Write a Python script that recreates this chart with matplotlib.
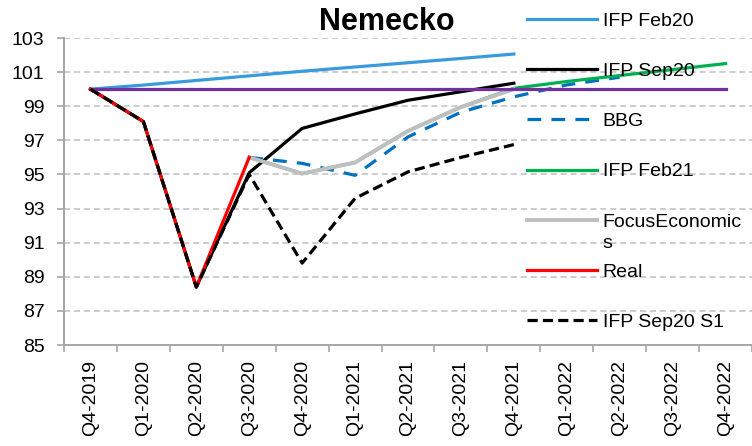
import numpy as np
import matplotlib
matplotlib.use('Agg')
import matplotlib.pyplot as plt

plt.rcParams['font.family'] = ['Liberation Sans', 'DejaVu Sans']

quarters = ['Q4-2019', 'Q1-2020', 'Q2-2020', 'Q3-2020', 'Q4-2020', 'Q1-2021',
            'Q2-2021', 'Q3-2021', 'Q4-2021', 'Q1-2022', 'Q2-2022', 'Q3-2022', 'Q4-2022']

# values (None = no value)
ifp_feb20 = [100.0, 100.24, 100.51, 100.78, 101.05, 101.30, 101.55, 101.80, 102.06]
ifp_sep20 = [100.0, 98.1, 88.4, 95.1, 97.7, 98.55, 99.35, 99.85, 100.35]
bbg = [None, None, None, 96.0, 95.65, 94.95, 97.2, 98.65, 99.55, 100.25, 100.7]
ifp_feb21 = [None, None, None, 96.0, 95.05, 95.7, 97.55, 98.95, 100.05, 100.45, 100.8, 101.15, 101.5]
focus = [None, None, None, 96.0, 95.05, 95.7, 97.55, 98.95, 100.0]
real = [100.0, 98.1, 88.4, 96.0]
ifp_sep20_s1 = [100.0, 98.1, 88.4, 95.0, 89.8, 93.6, 95.15, 96.0, 96.75]
base = [100.0] * 13

yticks = list(range(85, 104, 2))


def series(vals):
    x = np.arange(len(vals))
    y = np.array([np.nan if v is None else v for v in vals], dtype=float)
    return x, y


fig = plt.figure(figsize=(7.52, 4.46), dpi=100)
ax = fig.add_axes([64/752, 101/446, 688/752, 307/446])

lw = 2.3
ax.plot(*series(ifp_feb20), color='#3A9BDC', lw=lw, label='IFP Feb20', zorder=3)
ax.plot(*series(ifp_sep20), color='black', lw=lw, label='IFP Sep20', zorder=3)
ax.plot(*series(bbg), color='#0070C0', lw=lw, dashes=(4.3, 3.2), label='BBG', zorder=3)
ax.plot(*series(ifp_feb21), color='#00B050', lw=lw, label='IFP Feb21', zorder=3)
ax.plot(*series(focus), color='#BFBFBF', lw=2.8, label='FocusEconomic', zorder=4)
ax.plot(*series(real), color='#FF0000', lw=lw, label='Real', zorder=5)
ax.plot(*series(ifp_sep20_s1), color='black', lw=lw, dashes=(3.2, 1.6), label='IFP Sep20 S1', zorder=6)
ax.plot(*series(base), color='#7030A0', lw=lw, zorder=4)

ax.set_xlim(-0.5, len(quarters) - 0.5)
ax.set_ylim(85, 103)
ax.set_yticks(yticks)
ax.set_yticklabels([str(v) for v in yticks], fontsize=14)
ax.set_xticks(np.arange(len(quarters)))
ax.set_xticklabels(quarters, rotation=90, fontsize=14)
ax.set_xticks(np.arange(len(quarters) + 1) - 0.5, minor=True)
ax.tick_params(axis='x', which='major', length=0, pad=11)
ax.tick_params(axis='x', which='minor', length=5, color='#A6A6A6', width=1.2)
ax.tick_params(axis='y', length=5, color='#A6A6A6', width=1.2, pad=9)

for s in ['top', 'right']:
    ax.spines[s].set_visible(False)
for s in ['left', 'bottom']:
    ax.spines[s].set_color('#A6A6A6')
    ax.spines[s].set_linewidth(1.4)

for v in yticks[1:]:
    ax.axhline(v, color='#BFBFBF', lw=1.1, dashes=(4, 2.5), zorder=1)

leg = ax.legend(loc='upper left', bbox_to_anchor=(527/752, 1 - 12/446),
                bbox_transform=fig.transFigure, frameon=False, fontsize=14,
                handlelength=3.6, handletextpad=0.3, labelspacing=1.68,
                borderpad=0, borderaxespad=0)
leg.set_zorder(10)

fig.text(387/752, 1 - 22/446, 'Nemecko', fontsize=22, fontweight='bold',
         ha='center', va='center')

# the wrapped tail of "FocusEconomics" sits under the legend entry
fig.canvas.draw()
bb = leg.get_texts()[4].get_window_extent()
fig.text(bb.x0 / 752, (bb.y0 - 4) / 446, 's', fontsize=14, ha='left', va='top')

fig.savefig('out.png', dpi=100)
